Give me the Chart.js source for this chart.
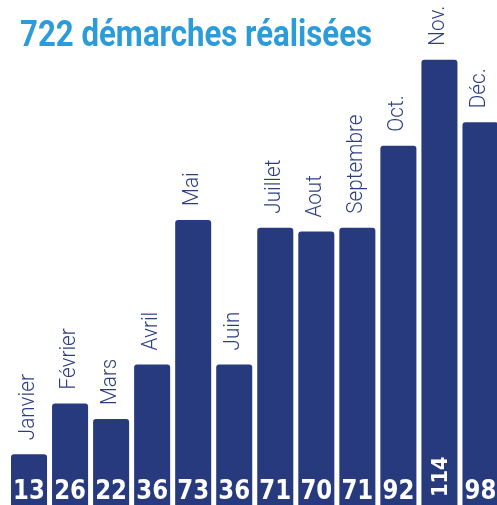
<!DOCTYPE html>
<html>
<head>
<meta charset="utf-8">
<script src="https://cdn.jsdelivr.net/npm/chart.js@4"></script>
<style>
    html, body { margin: 0; padding: 0; background: #fff; overflow: hidden; }
    #wrap { position: relative; width: 497px; height: 505px; overflow: hidden; }
    canvas { position: absolute; left: 0; top: 0; }
</style>
</head>
<body>
<div id="wrap"><canvas id="myChart" width="501" height="505"></canvas></div>
<script>
const title = '722 démarches réalisées';
const months = ['Janvier', 'Février', 'Mars', 'Avril', 'Mai', 'Juin', 'Juillet', 'Aout', 'Septembre', 'Oct.', 'Nov.', 'Déc.'];
const counts = [13, 26, 22, 36, 73, 36, 71, 70, 71, 92, 114, 98];

const barColor = '#273a7d';
const labelColor = '#2c3e80';
const titleColor = '#2b9bd9';

// month names above the bars, numbers inside at the bottom, title on top
const labelsPlugin = {
    id: 'labels',
    afterDatasetsDraw(chart) {
        const ctx = chart.ctx;
        const bars = chart.getDatasetMeta(0).data;
        bars.forEach((bar, i) => {
            const x = bar.x, top = bar.y, w = bar.width;

            ctx.save();
            ctx.translate(x + 5, top - 14);
            ctx.rotate(-Math.PI / 2);
            ctx.scale(0.94, 1);
            ctx.font = '300 22px Roboto';
            ctx.fillStyle = labelColor;
            ctx.textAlign = 'left';
            ctx.textBaseline = 'alphabetic';
            ctx.fillText(months[i], 0, 0);
            ctx.restore();

            const txt = String(counts[i]);
            ctx.save();
            ctx.fillStyle = '#fff';
            ctx.textBaseline = 'alphabetic';
            ctx.font = 'bold 26px "DejaVu Sans"';
            if (ctx.measureText(txt).width * 0.88 > w - 2) {
                ctx.font = 'bold 22px "DejaVu Sans"';
                ctx.translate(x + 8, 497);
                ctx.rotate(-Math.PI / 2);
                ctx.scale(0.88, 1);
                ctx.textAlign = 'left';
            } else {
                ctx.translate(x, 499);
                ctx.scale(0.88, 1);
                ctx.textAlign = 'center';
            }
            ctx.fillText(txt, 0, 0);
            ctx.restore();
        });

        ctx.save();
        ctx.font = 'bold 36px Roboto';
        const k = 352 / ctx.measureText(title).width;
        ctx.translate(20, 46);
        ctx.scale(k, 1);
        ctx.fillStyle = titleColor;
        ctx.textAlign = 'left';
        ctx.textBaseline = 'alphabetic';
        ctx.fillText(title, 0, 0);
        ctx.restore();
    }
};

new Chart(document.getElementById('myChart'), {
    type: 'bar',
    data: {
        labels: months,
        datasets: [{
            data: counts,
            backgroundColor: barColor,
            borderRadius: 3,
            barPercentage: 0.878,
            categoryPercentage: 1
        }]
    },
    options: {
        responsive: false,
        animation: false,
        layout: { padding: { left: 8.5, right: 0, top: 0, bottom: 0 } },
        plugins: { legend: { display: false }, tooltip: { enabled: false }, title: { display: false } },
        scales: {
            x: { display: false },
            y: { display: false, min: 0, max: 129.3 }
        }
    },
    plugins: [labelsPlugin]
});
</script>
</body>
</html>
